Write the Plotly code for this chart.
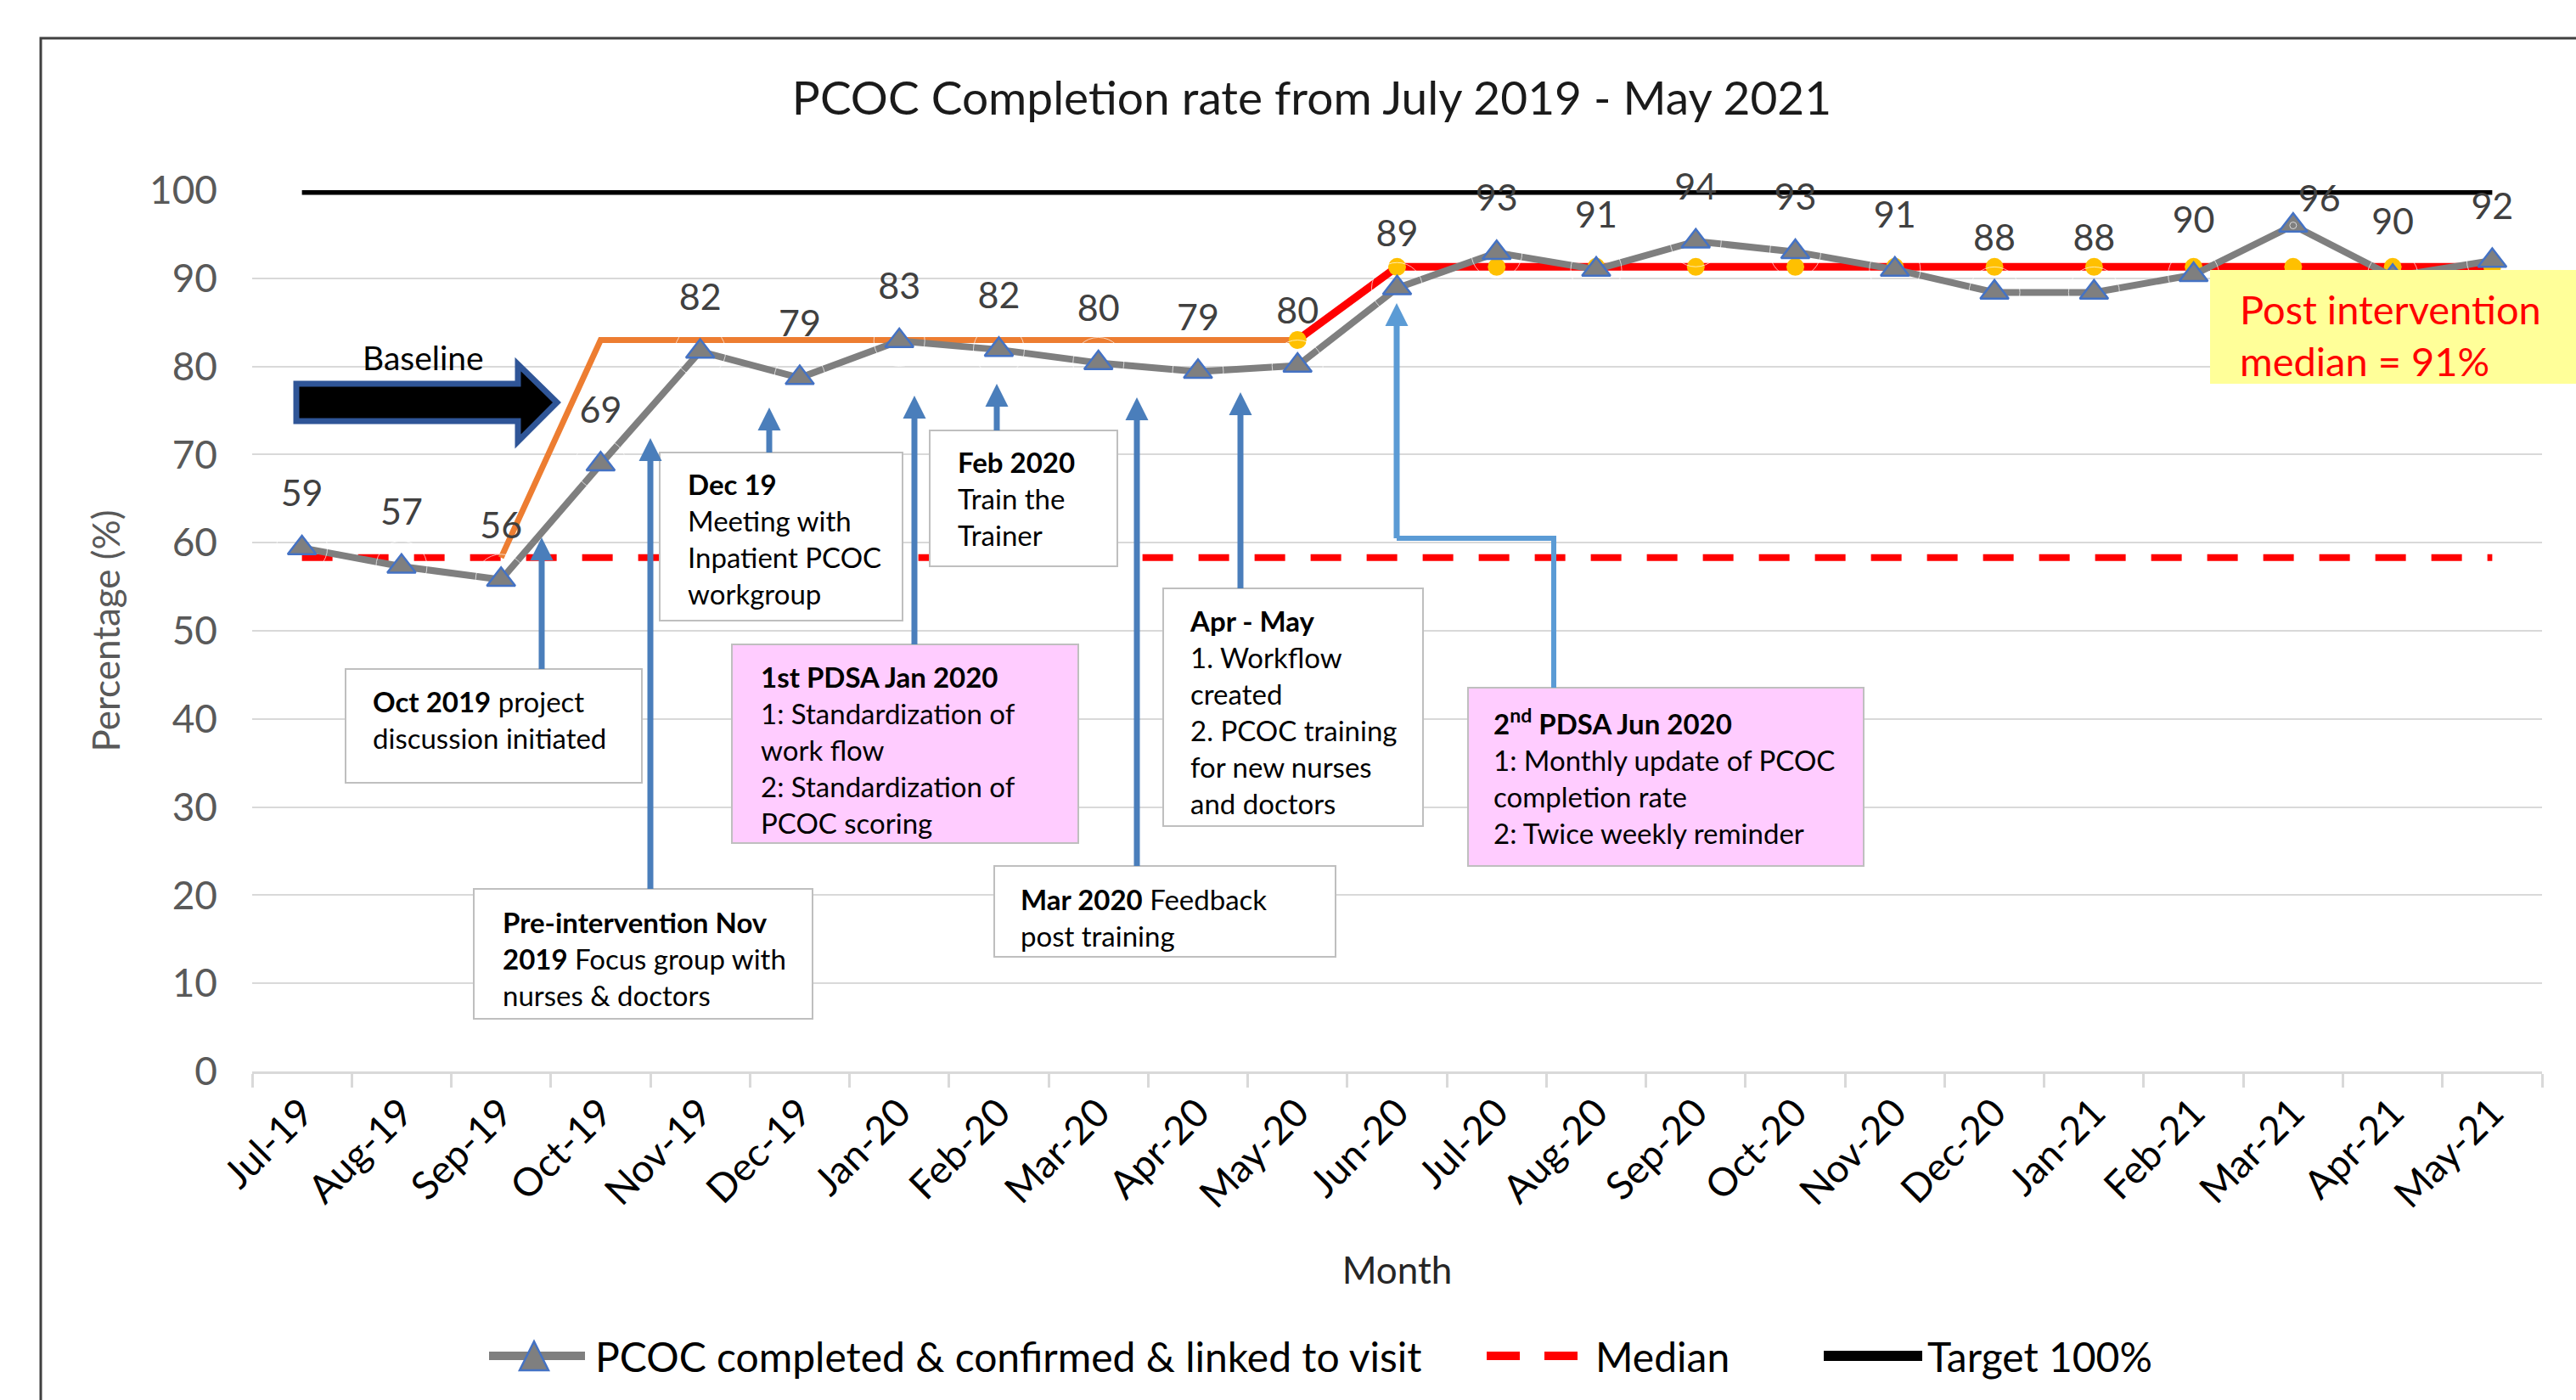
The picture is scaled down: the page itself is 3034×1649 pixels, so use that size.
import plotly.graph_objects as go

# ---------------- data ----------------
months = ["Jul-19", "Aug-19", "Sep-19", "Oct-19", "Nov-19", "Dec-19", "Jan-20", "Feb-20",
          "Mar-20", "Apr-20", "May-20", "Jun-20", "Jul-20", "Aug-20", "Sep-20", "Oct-20",
          "Nov-20", "Dec-20", "Jan-21", "Feb-21", "Mar-21", "Apr-21", "May-21"]
completion = [59.4, 57.3, 55.8, 68.9, 81.7, 78.7, 82.9, 81.9, 80.4, 79.4, 80.1, 88.9,
              92.9, 91.0, 94.2, 93.0, 91.0, 88.4, 88.4, 90.4, 96.0, 90.2, 92.0]

median_months = ["Jul-19", "May-21"]
median_values = [58.3, 58.3]

target_months = ["Jul-19", "May-21"]
target_values = [100, 100]

pre_months = ["Sep-19", "Oct-19", "Nov-19", "Dec-19", "Jan-20", "Feb-20", "Mar-20", "Apr-20", "May-20"]
pre_values = [58.3, 83, 83, 83, 83, 83, 83, 83, 83]

post_months = ["May-20", "Jun-20", "Jul-20", "Aug-20", "Sep-20", "Oct-20", "Nov-20", "Dec-20",
               "Jan-21", "Feb-21", "Mar-21", "Apr-21", "May-21"]
post_values = [83, 91.3, 91.3, 91.3, 91.3, 91.3, 91.3, 91.3, 91.3, 91.3, 91.3, 91.3, 91.3]

y_ticks = [0, 10, 20, 30, 40, 50, 60, 70, 80, 90, 100]

series_name = "PCOC completed & confirmed & linked to visit"
median_name = "Median"
target_name = "Target 100%"

FONT = "Lato, 'Open Sans', sans-serif"

# ---------------- layout helpers (pixel -> paper) ----------------
W, H = 3034, 1649
PX_L, PX_R, PX_T, PX_B = 297, 2994, 224, 1262


def px(X):
    return (X - PX_L) / (PX_R - PX_L)


def py(Y):
    return (PX_B - Y) / (PX_B - PX_T)


def line_shape(x0, y0, x1, y1, color, width):
    return dict(type="line", xref="paper", yref="paper", x0=px(x0), y0=py(y0),
                x1=px(x1), y1=py(y1), line=dict(color=color, width=width), layer="above")


def poly_shape(pts, fill, lcolor=None, lwidth=0):
    path = "M" + " L".join("{},{}".format(px(a), py(b)) for a, b in pts) + " Z"
    return dict(type="path", xref="paper", yref="paper", path=path, fillcolor=fill,
                line=dict(color=lcolor or fill, width=lwidth), layer="above")


fig = go.Figure()

fig.add_trace(go.Scatter(x=target_months, y=target_values, mode="lines", name=target_name,
                         line=dict(color="#000000", width=11), hoverinfo="skip"))
fig.add_trace(go.Scatter(x=median_months, y=median_values, mode="lines", name=median_name,
                         line=dict(color="#FF0000", width=8, dash="36px,30px"), hoverinfo="skip"))
fig.add_trace(go.Scatter(x=pre_months, y=pre_values, mode="lines", name="Pre-intervention shift",
                         line=dict(color="#ED7D31", width=7), hoverinfo="skip"))
fig.add_trace(go.Scatter(x=post_months, y=post_values, mode="lines+markers", name="Post intervention median",
                         line=dict(color="#FF0000", width=9),
                         marker=dict(color="#FFC000", size=21), hoverinfo="skip"))
fig.add_trace(go.Scatter(x=months, y=completion, mode="lines+markers", name=series_name,
                         line=dict(color="#7F7F7F", width=8),
                         marker=dict(symbol="triangle-up", size=29, color="#7F7F7F",
                                     line=dict(color="#4472C4", width=2.5))))
# data labels
label_pos = ["top center"] * len(months)
label_size = [60] * len(months)
label_pos[20] = "top right"
label_size[20] = 8
fig.add_trace(go.Scatter(x=months, y=completion, mode="markers+text", name="labels",
                         texttemplate="%{y:.0f}", textposition=label_pos,
                         textfont=dict(family=FONT, size=43, color="#404040"),
                         marker=dict(size=label_size, color="rgba(0,0,0,0)"),
                         hoverinfo="skip", cliponaxis=False))

shapes = []
annotations = []

# outer border
shapes.append(dict(type="rect", xref="paper", yref="paper", x0=px(48), x1=px(3200),
                   y0=py(1800), y1=py(45), line=dict(color="#404040", width=3),
                   fillcolor="rgba(0,0,0,0)", layer="below"))

# Baseline block arrow
shapes.append(poly_shape([(349, 452), (610, 452), (610, 429), (656, 474), (610, 520),
                          (610, 496), (349, 496)], "#000000", "#2F5597", 7))
annotations.append(dict(xref="paper", yref="paper", x=px(498), y=py(421), text="Baseline",
                        showarrow=False, xanchor="center", yanchor="middle",
                        font=dict(family=FONT, size=39, color="#000000")))

# text boxes: (x0, y0, x1, y1, fill, text, text_left, text_center_y)
boxes = [
    (407, 788, 756, 922, "#FFFFFF", "<b>Oct 2019</b> project<br>discussion initiated", 437, 848),
    (558, 1047, 957, 1200, "#FFFFFF",
     "<b>Pre-intervention Nov</b><br><b>2019</b> Focus group with<br>nurses &amp; doctors", 590, 1129),
    (777, 533, 1063, 731, "#FFFFFF", "<b>Dec 19</b><br>Meeting with<br>Inpatient PCOC<br>workgroup", 808, 634),
    (862, 759, 1270, 993, "#FFCCFF",
     "<b>1st PDSA Jan 2020</b><br>1: Standardization of<br>work flow<br>2: Standardization of<br>PCOC scoring",
     894, 883),
    (1095, 507, 1316, 667, "#FFFFFF", "<b>Feb 2020</b><br>Train the<br>Trainer", 1126, 587),
    (1171, 1020, 1573, 1127, "#FFFFFF", "<b>Mar 2020</b> Feedback<br>post training", 1200, 1080),
    (1370, 693, 1676, 973, "#FFFFFF",
     "<b>Apr - May</b><br>1. Workflow<br>created<br>2. PCOC training<br>for new nurses<br>and doctors",
     1399, 838),
    (1729, 810, 2195, 1020, "#FFCCFF",
     "<b>2<sup>nd</sup> PDSA Jun 2020</b><br>1: Monthly update of PCOC<br>completion rate<br>2: Twice weekly reminder",
     1757, 914),
]
for (x0, y0, x1, y1, fill, txt, tl, tc) in boxes:
    shapes.append(dict(type="rect", xref="paper", yref="paper", x0=px(x0), x1=px(x1),
                       y0=py(y1), y1=py(y0), fillcolor=fill,
                       line=dict(color="#BFBFBF", width=2), layer="above"))
    annotations.append(dict(xref="paper", yref="paper", x=px(tl), y=py(tc), text=txt,
                            showarrow=False, xanchor="left", yanchor="middle", align="left",
                            font=dict(family=FONT, size=33, color="#000000")))

# yellow post-intervention box
shapes.append(dict(type="rect", xref="paper", yref="paper", x0=px(2603), x1=px(3150),
                   y0=py(452), y1=py(318), fillcolor="#FFFF99",
                   line=dict(width=0), layer="above"))
annotations.append(dict(xref="paper", yref="paper", x=px(2636), y=py(394),
                        text="Post intervention<br>median = 91%", showarrow=False,
                        xanchor="left", yanchor="middle", align="left",
                        font=dict(family=FONT, size=47, color="#FF0000")))

# upward arrows (x, tail_y, tip_y)
HEAD_W, HEAD_L = 27, 27


def up_arrow(x, tail, tip, color):
    out = [line_shape(x, tail, x, tip + HEAD_L - 2, color, 7)]
    out.append(poly_shape([(x - HEAD_W / 2, tip + HEAD_L), (x + HEAD_W / 2, tip + HEAD_L), (x, tip)], color))
    return out


arrows = [(638, 788, 633), (766, 1047, 516), (906, 533, 480), (1077, 759, 466),
          (1174, 507, 452), (1339, 1020, 468), (1461, 693, 462)]
for (ax_, tail, tip) in arrows:
    shapes.extend(up_arrow(ax_, tail, tip, "#4A7EBB"))

# elbow connector for 2nd PDSA
shapes.append(dict(type="path", xref="paper", yref="paper",
                   path="M{},{} L{},{} L{},{}".format(px(1830), py(810), px(1830), py(634),
                                                      px(1645), py(634)),
                   line=dict(color="#5B9BD5", width=6), layer="above"))
shapes.extend(up_arrow(1645, 634, 357, "#5B9BD5"))

# ---------------- legend (drawn) ----------------
LEG_Y = 1597
shapes.append(line_shape(576, LEG_Y, 689, LEG_Y, "#7F7F7F", 10))
shapes.append(poly_shape([(612, 1614), (646, 1614), (629, 1580)], "#7F7F7F", "#4472C4", 2.5))
shapes.append(line_shape(1751, LEG_Y, 1790, LEG_Y, "#FF0000", 10))
shapes.append(line_shape(1819, LEG_Y, 1858, LEG_Y, "#FF0000", 10))
shapes.append(line_shape(2148, LEG_Y, 2264, LEG_Y, "#000000", 12))
for (tx, name) in [(699, series_name), (1877, median_name), (2268, target_name)]:
    annotations.append(dict(xref="paper", yref="paper", x=px(tx), y=py(LEG_Y), text=name,
                            showarrow=False, xanchor="left", yanchor="middle",
                            font=dict(family=FONT, size=48, color="#000000")))

fig.update_layout(
    width=W, height=H,
    margin=dict(l=PX_L, r=W - PX_R, t=PX_T, b=H - PX_B),
    paper_bgcolor="#FFFFFF", plot_bgcolor="#FFFFFF",
    font=dict(family=FONT, color="#404040"),
    title=dict(text="PCOC Completion rate from July 2019 - May 2021", x=px(1545), xref="paper",
               y=1 - 116 / H, yanchor="middle", xanchor="center",
               font=dict(family=FONT, size=55, color="#1A1A1A")),
    xaxis=dict(type="category", categoryorder="array", categoryarray=months,
               range=[-0.5, 22.5], tickson="boundaries", ticks="outside", ticklen=16,
               tickwidth=3, tickcolor="#D9D9D9", showgrid=False, showline=True,
               linecolor="#D9D9D9", linewidth=3, tickangle=-45,
               tickfont=dict(family=FONT, size=46, color="#000000"),
               title=dict(text="Month", font=dict(family=FONT, size=44, color="#262626"), standoff=50)),
    yaxis=dict(range=[0, 100], tickvals=y_ticks, showgrid=True, gridcolor="#D9D9D9", gridwidth=2,
               zeroline=False, showline=False, ticks="", ticklabelstandoff=40,
               tickfont=dict(family=FONT, size=46, color="#595959"),
               title=dict(text="Percentage (%)", font=dict(family=FONT, size=44, color="#595959"),
                          standoff=20)),
    shapes=shapes,
    annotations=annotations,
    showlegend=False,
)

fig.write_html("out.html", config={"displayModeBar": False},
               post_script="document.body.style.margin='0px';document.body.style.padding='0px';")
